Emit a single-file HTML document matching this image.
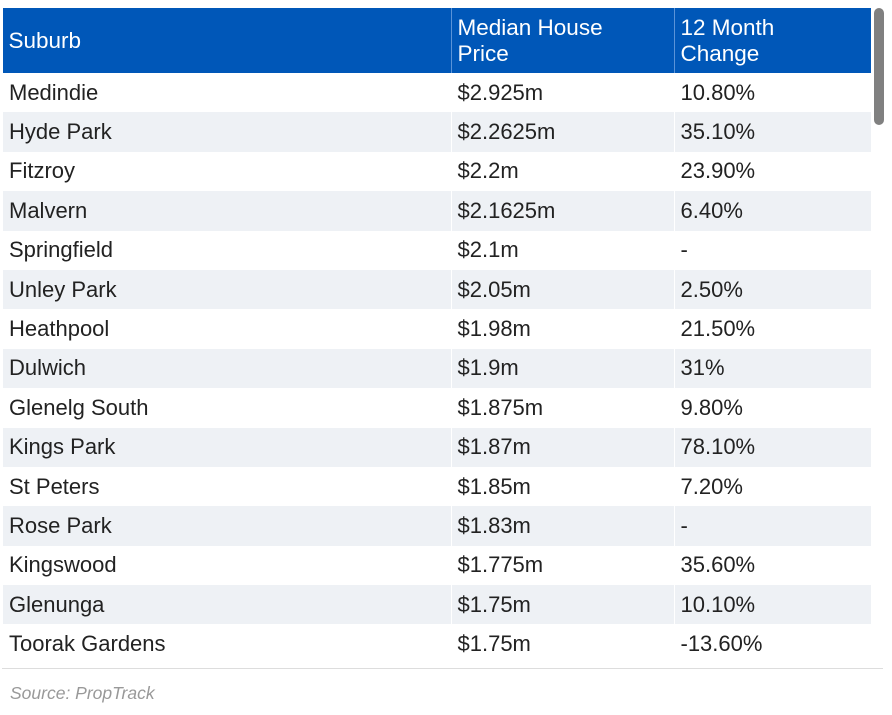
<!DOCTYPE html>
<html><head><style>
body{margin:0;width:892px;height:715px;background:#fff;font-family:"Liberation Sans",sans-serif;position:relative;overflow:hidden}
table{position:absolute;left:2px;top:8px;width:869px;border-collapse:collapse}
th{background:#0057b8;color:#fff;font-weight:normal;font-size:22.5px;line-height:26px;text-align:left;padding:0 6px;height:65px;border-left:1px solid #5a93d8}
th:first-child{border-left:none}
td{font-size:22px;color:#222;padding:0 6px;height:39.4px;border-left:1px solid #fff}
tr:nth-child(odd) td{background:#eef1f5}
.sb{position:absolute;left:874px;top:8px;width:10px;height:117px;background:#808080;border-radius:5px}
.hr{position:absolute;left:2px;top:668px;width:881px;height:1px;background:#ddd}
.src{position:absolute;left:10px;top:683px;font-size:17.5px;font-style:italic;color:#999}
</style></head><body>
<table>
<tr><th style="width:436px">Suburb</th><th style="width:210px">Median House<br>Price</th><th>12 Month<br>Change</th></tr>
<tr><td>Medindie</td><td>$2.925m</td><td>10.80%</td></tr>
<tr><td>Hyde Park</td><td>$2.2625m</td><td>35.10%</td></tr>
<tr><td>Fitzroy</td><td>$2.2m</td><td>23.90%</td></tr>
<tr><td>Malvern</td><td>$2.1625m</td><td>6.40%</td></tr>
<tr><td>Springfield</td><td>$2.1m</td><td>-</td></tr>
<tr><td>Unley Park</td><td>$2.05m</td><td>2.50%</td></tr>
<tr><td>Heathpool</td><td>$1.98m</td><td>21.50%</td></tr>
<tr><td>Dulwich</td><td>$1.9m</td><td>31%</td></tr>
<tr><td>Glenelg South</td><td>$1.875m</td><td>9.80%</td></tr>
<tr><td>Kings Park</td><td>$1.87m</td><td>78.10%</td></tr>
<tr><td>St Peters</td><td>$1.85m</td><td>7.20%</td></tr>
<tr><td>Rose Park</td><td>$1.83m</td><td>-</td></tr>
<tr><td>Kingswood</td><td>$1.775m</td><td>35.60%</td></tr>
<tr><td>Glenunga</td><td>$1.75m</td><td>10.10%</td></tr>
<tr><td>Toorak Gardens</td><td>$1.75m</td><td>-13.60%</td></tr>
</table>
<div class="sb"></div>
<div class="hr"></div>
<div class="src">Source: PropTrack</div>
</body></html>
